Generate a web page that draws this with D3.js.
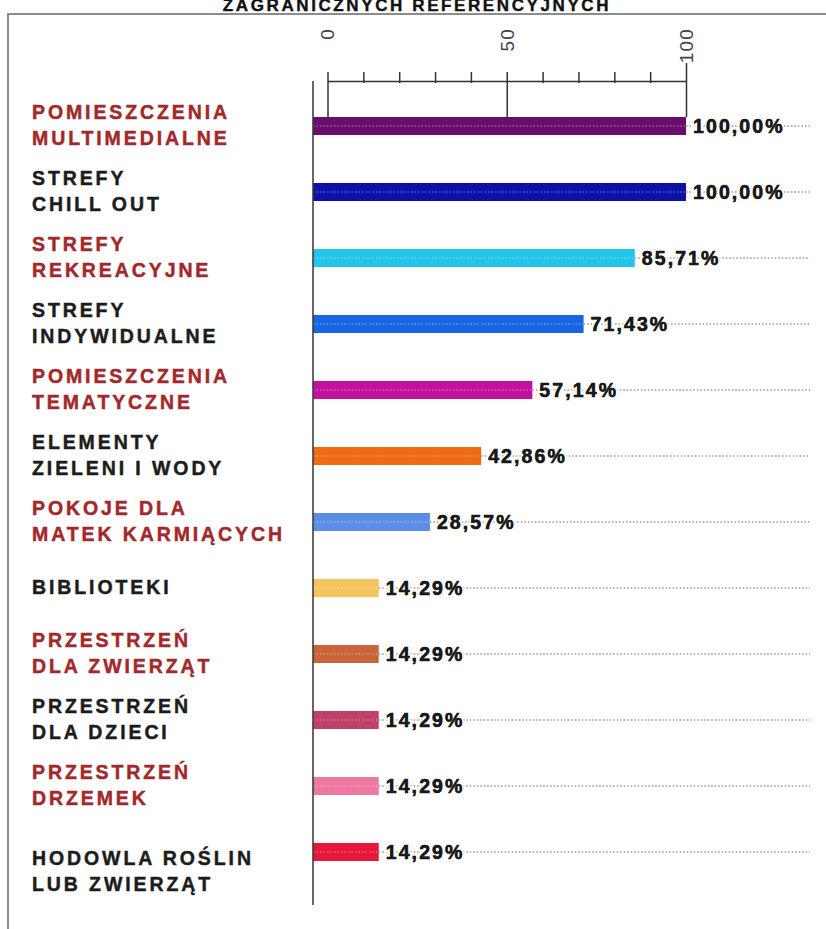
<!DOCTYPE html>
<html>
<head>
<meta charset="utf-8">
<script src="https://cdn.jsdelivr.net/npm/d3@7"></script>
<style>
  html, body { margin: 0; padding: 0; background: #fff; }
  svg { display: block; }
  text { font-family: "Liberation Sans", Arial, Helvetica, sans-serif; }
</style>
</head>
<body>
<script>
// ---------------- DATA ----------------
const titleText = "ZAGRANICZNYCH REFERENCYJNYCH";
const categories = [
  "POMIESZCZENIA\nMULTIMEDIALNE",
  "STREFY\nCHILL OUT",
  "STREFY\nREKREACYJNE",
  "STREFY\nINDYWIDUALNE",
  "POMIESZCZENIA\nTEMATYCZNE",
  "ELEMENTY\nZIELENI I WODY",
  "POKOJE DLA\nMATEK KARMIĄCYCH",
  "BIBLIOTEKI",
  "PRZESTRZEŃ\nDLA ZWIERZĄT",
  "PRZESTRZEŃ\nDLA DZIECI",
  "PRZESTRZEŃ\nDRZEMEK",
  "HODOWLA ROŚLIN\nLUB ZWIERZĄT"
];
const values = [100, 100, 85.71, 71.43, 57.14, 42.86, 28.57, 14.29, 14.29, 14.29, 14.29, 14.29];
const axisTicks = [0, 10, 20, 30, 40, 50, 60, 70, 80, 90, 100];
const axisTickLabels = [0, 50, 100];

// ---------------- STYLE ----------------
const barColors = ["#6a0c6c", "#0c12a6", "#22c4ea", "#1966e4", "#c0129c", "#ee6a14",
                   "#5c8ee6", "#f6c45c", "#c8663a", "#bf3f68", "#ee78a2", "#e6163c"];
const labelColors = ["#a2282b", "#1c1c1c"];

const W = 826, H = 929;
const svg = d3.select("body").append("svg").attr("width", W).attr("height", H);

const x = d3.scaleLinear().domain([0, 100]).range([327.5, 686]);
const y = d3.scalePoint().domain(categories).range([126, 852]);
const baseX = 313, barH = 18, axisY = 81, gridEnd = 810;

const locale = d3.formatLocale({decimal: ",", thousands: " ", grouping: [3], currency: ["", ""]});
const fmt = locale.format(".2f");

// Frame
svg.append("path")
  .attr("d", `M8,${H} V14 H${W}`)
  .attr("fill", "none").attr("stroke", "#8c8c8c").attr("stroke-width", 2);

// Title (partially cut off at top, as in the original)
svg.append("text")
  .attr("x", 417).attr("y", 11)
  .attr("text-anchor", "middle")
  .attr("font-size", 17).attr("font-weight", "bold")
  .attr("letter-spacing", 2.6)
  .attr("fill", "#111")
  .attr("stroke", "#111").attr("stroke-width", 0.4)
  .text(titleText);

// Top axis
const axisG = svg.append("g").attr("transform", `translate(0,${axisY})`)
  .call(d3.axisTop(x).tickValues(axisTicks).tickSize(9).tickSizeOuter(0).tickFormat(""));
axisG.select(".domain").attr("stroke", "#333").attr("stroke-width", 1.5);
axisG.selectAll(".tick line")
  .attr("stroke", "#333").attr("stroke-width", 1.5)
  .attr("y1", d => d % 50 === 0 ? (117 - axisY) : 2)
  .attr("y2", d => d === 100 ? -18 : -9);

// Rotated tick labels
svg.append("g").selectAll("text")
  .data(axisTickLabels).join("text")
  .attr("transform", d => `translate(${x(d)},28) rotate(-90)`)
  .attr("text-anchor", "end")
  .attr("dy", "0.36em")
  .attr("font-size", 19)
  .attr("letter-spacing", 1.2)
  .attr("fill", "#444")
  .text(d => d);

// Rows
const rows = svg.append("g").selectAll("g")
  .data(categories.map((c, i) => ({c, v: values[i], i})))
  .join("g");

// gridline (dotted) right of bar
rows.append("line")
  .attr("x1", d => x(d.v)).attr("x2", gridEnd)
  .attr("y1", d => y(d.c)).attr("y2", d => y(d.c))
  .attr("stroke", "#9a9a9a").attr("stroke-width", 1.3)
  .attr("stroke-dasharray", "1.5,2");

// bars
rows.append("rect")
  .attr("x", baseX)
  .attr("y", d => y(d.c) - barH / 2)
  .attr("width", d => x(d.v) - baseX)
  .attr("height", barH)
  .attr("fill", d => barColors[d.i]);

// dotted line over bar
rows.append("line")
  .attr("x1", baseX).attr("x2", d => x(d.v))
  .attr("y1", d => y(d.c)).attr("y2", d => y(d.c))
  .attr("stroke", "#fff").attr("stroke-opacity", 0.35).attr("stroke-width", 1.3)
  .attr("stroke-dasharray", "1.5,2");

// value labels (white halo hides the gridline behind them)
rows.append("text")
  .attr("x", d => x(d.v) + 7)
  .attr("y", d => y(d.c) + 7)
  .attr("font-size", 19.5).attr("font-weight", "bold")
  .attr("letter-spacing", 2.1)
  .attr("fill", "#1a1a1a")
  .attr("stroke", "#fff").attr("stroke-width", 4).attr("paint-order", "stroke")
  .text(d => fmt(d.v) + "%");
rows.append("text")
  .attr("x", d => x(d.v) + 7)
  .attr("y", d => y(d.c) + 7)
  .attr("font-size", 19.5).attr("font-weight", "bold")
  .attr("letter-spacing", 2.1)
  .attr("fill", "#1a1a1a")
  .attr("stroke", "#1a1a1a").attr("stroke-width", 0.45)
  .text(d => fmt(d.v) + "%");

// category labels
rows.each(function(d) {
  const lines = d.c.split("\n");
  const extra = d.i === categories.length - 1 ? 20 : 0;
  const cy = y(d.c) + extra - 1;
  const lh = 26;
  const firstBase = cy + 7 - (lines.length - 1) * lh / 2;
  const col = labelColors[d.i % 2];
  const t = d3.select(this).append("text")
    .attr("font-size", 19.5).attr("font-weight", "bold")
    .attr("letter-spacing", 2.9)
    .attr("fill", col)
    .attr("stroke", col).attr("stroke-width", 0.45);
  lines.forEach((ln, k) => {
    t.append("tspan").attr("x", 32).attr("y", firstBase + k * lh).text(ln);
  });
});

// baseline (vertical axis)
svg.append("line")
  .attr("x1", baseX).attr("x2", baseX)
  .attr("y1", axisY).attr("y2", 905)
  .attr("stroke", "#333").attr("stroke-width", 1.5);
</script>
</body>
</html>
